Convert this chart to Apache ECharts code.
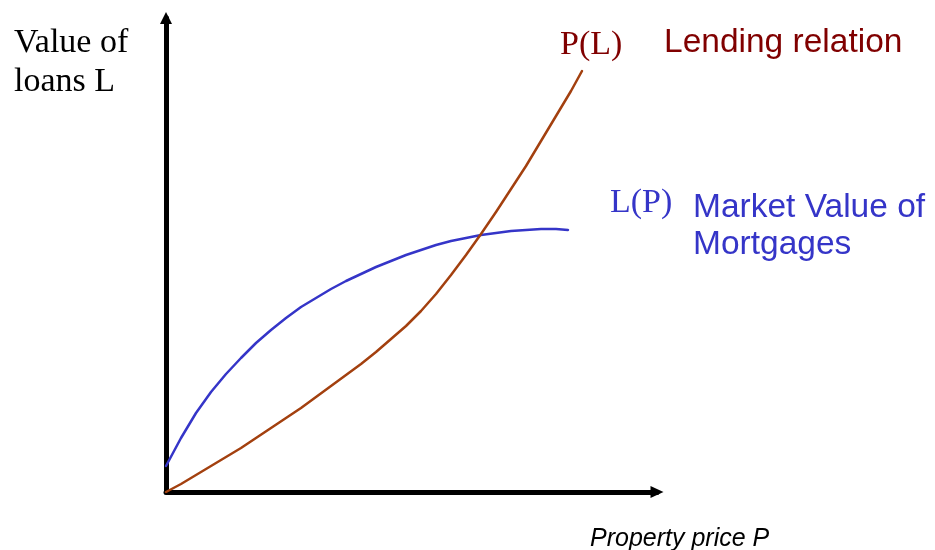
<!DOCTYPE html>
<html>
<head>
<meta charset="utf-8">
<script src="https://cdn.jsdelivr.net/npm/echarts@6/dist/echarts.min.js"></script>
<style>
html,body{margin:0;padding:0;background:#fff;}
#chart{width:935px;height:550px;}
</style>
</head>
<body>
<div id="chart"></div>
<script>
// Property price P (x) and value of loans L (y), in axis units
var marketX = [0, 15, 30, 45, 60, 75, 90, 105, 120, 135, 150, 165, 180, 195, 210, 225, 240, 255, 270, 285, 300, 315, 330, 345, 360, 375, 390, 402];
var marketY = [26, 54, 79, 100, 118, 134, 149, 162, 174, 185, 194, 203, 211, 218, 225, 231, 237, 242, 247, 251, 254, 257, 259, 261, 262, 263, 263, 262];
var lendingX = [0, 15, 30, 45, 60, 75, 90, 105, 120, 135, 150, 165, 180, 195, 210, 225, 240, 255, 270, 285, 300, 315, 330, 345, 360, 375, 390, 405, 416];
var lendingY = [0, 8, 17, 26, 35, 44, 54, 64, 74, 84, 95, 106, 117, 128, 140, 153, 166, 181, 198, 217, 237, 258, 280, 303, 326, 351, 376, 401, 421];
var axisTitleY = ['Value of', 'loans L'];
var axisTitleX = 'Property price P';
var lendingLabels = ['P(L)', 'Lending relation'];
var marketLabels = ['L(P)', 'Market Value of', 'Mortgages'];

function pairs(xs, ys){ return xs.map(function(x,i){ return [x, ys[i]]; }); }

var chart = echarts.init(document.getElementById('chart'));
var serif = '"Liberation Serif", "Times New Roman", serif';
var sans = '"Liberation Sans", Arial, sans-serif';
var darkRed = '#800000';
var blue = '#3535c8';

function txt(t, x, y, font, color){
  return {type:'text', style:{text:t, x:x, y:y, font:font, fill:color, textVerticalAlign:'middle'}};
}

chart.setOption({
  animation:false,
  backgroundColor:'#fff',
  grid:{left:166, right:278, top:18, bottom:58},
  xAxis:{type:'value', min:0, max:491, splitLine:{show:false}, axisTick:{show:false}, axisLabel:{show:false},
    axisLine:{show:true, lineStyle:{color:'#000', width:5}, symbol:['none','triangle'], symbolSize:[12,13]}},
  yAxis:{type:'value', min:0, max:474, splitLine:{show:false}, axisTick:{show:false}, axisLabel:{show:false},
    axisLine:{show:true, lineStyle:{color:'#000', width:5}, symbol:['none','triangle'], symbolSize:[12,12]}},
  series:[
    {type:'line', data:pairs(marketX, marketY), smooth:false, showSymbol:false,
     lineStyle:{color:blue, width:2.5, join:'round', cap:'round'}, z:3},
    {type:'line', data:pairs(lendingX, lendingY), smooth:false, showSymbol:false,
     lineStyle:{color:'#a3400f', width:2.5, join:'round', cap:'round'}, z:4}
  ],
  graphic:[
    txt(axisTitleY[0], 14, 43, '34px ' + serif, '#000'),
    txt(axisTitleY[1], 14, 82, '34px ' + serif, '#000'),
    txt(lendingLabels[0], 560, 45, '34px ' + serif, darkRed),
    txt(lendingLabels[1], 664, 43, '33.5px ' + sans, darkRed),
    txt(marketLabels[0], 610, 203, '34px ' + serif, blue),
    txt(marketLabels[1], 693, 208, '33.5px ' + sans, blue),
    txt(marketLabels[2], 693, 245, '33.5px ' + sans, blue),
    txt(axisTitleX, 590, 539, 'italic 25px ' + sans, '#000')
  ]
});
</script>
</body>
</html>
